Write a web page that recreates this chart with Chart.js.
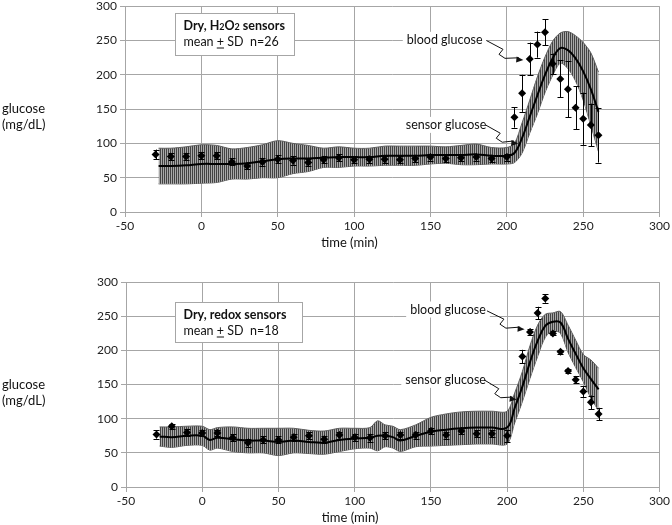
<!DOCTYPE html>
<html>
<head>
<meta charset="utf-8">
<script src="https://cdn.jsdelivr.net/npm/chart.js@4"></script>
<style>
  body { margin: 0; background: #fff; }
  .panel { position: absolute; left: 0; width: 672px; }
</style>
</head>
<body>
<div class="panel" style="top:-4px;height:254px"><canvas id="grafica-h2o2"></canvas></div>
<div class="panel" style="top:272px;height:253px"><canvas id="grafica-redox"></canvas></div>
<script>
// axis ticks
const xTicks = [-50, 0, 50, 100, 150, 200, 250, 300];
const yTicks = [0, 50, 100, 150, 200, 250, 300];

// top panel: H2O2 sensors
const h2o2SensorTime = [-28, -20, -10, 0, 10, 20, 30, 40, 50, 60, 70, 80, 90, 100, 110, 120, 130, 140, 150, 160, 170, 180, 190, 200, 205, 210, 215, 220, 225, 230, 235, 240, 245, 250, 255, 260];
const h2o2SensorMean = [67, 67, 68, 70, 70, 70, 71, 74, 77, 78, 78, 79, 80, 80, 80, 82, 82, 82, 83, 83, 83, 84, 82, 82, 86, 108, 139, 170, 200, 224, 239, 236, 224, 205, 179, 146];
const h2o2SensorSD = [26, 26, 27, 28, 27, 22, 23, 24, 27, 22, 19, 14, 15, 13, 13, 14, 14, 14, 13, 12, 14, 15, 12, 12, 14, 22, 24, 27, 26, 25, 22, 27, 33, 42, 53, 58];
const h2o2BloodTime = [-30, -20, -10, 0, 10, 20, 30, 40, 50, 60, 70, 80, 90, 100, 110, 120, 130, 140, 150, 160, 170, 180, 190, 200, 205, 210, 215, 220, 225, 230, 235, 240, 245, 250, 255, 260];
const h2o2Blood = [84, 81, 81, 82, 82, 73, 67, 73, 77, 75, 72, 76, 79, 76, 77, 77, 76, 78, 80, 78, 79, 80, 78, 80, 138, 173, 223, 244, 262, 216, 194, 179, 152, 136, 127, 112];
const h2o2BloodSD = [7, 5, 5, 5, 5, 5, 5, 6, 6, 6, 5, 5, 5, 5, 5, 5, 5, 5, 5, 5, 5, 5, 5, 5, 15, 27, 24, 19, 19, 15, 27, 41, 31, 38, 31, 40];

// bottom panel: redox sensors
const redoxSensorTime = [-28, -20, -10, 0, 5, 10, 20, 30, 40, 50, 60, 70, 80, 90, 100, 110, 115, 120, 125, 130, 140, 150, 160, 170, 180, 190, 200, 205, 210, 215, 220, 225, 230, 235, 240, 245, 250, 255, 260];
const redoxSensorMean = [74, 73, 75, 75, 69, 72, 70, 68, 68, 66, 68, 66, 65, 69, 71, 72, 75, 75, 73, 68, 75, 81, 84, 86, 87, 87, 87, 116, 147, 183, 214, 236, 242, 241, 217, 195, 174, 158, 143];
const redoxSensorSD = [14, 15, 14, 14, 15, 15, 18, 18, 18, 20, 18, 17, 17, 17, 15, 15, 22, 16, 16, 16, 16, 21, 23, 24, 24, 24, 24, 22, 22, 24, 23, 17, 13, 16, 20, 20, 20, 28, 31];
const redoxBloodTime = [-30, -20, -10, 0, 10, 20, 30, 40, 50, 60, 70, 80, 90, 100, 110, 120, 130, 140, 150, 160, 170, 180, 190, 200, 210, 215, 220, 225, 230, 235, 240, 245, 250, 255, 260];
const redoxBlood = [77, 89, 80, 79, 79, 72, 65, 69, 69, 73, 75, 70, 76, 73, 72, 75, 76, 76, 82, 76, 82, 78, 78, 75, 191, 227, 255, 276, 225, 198, 170, 157, 140, 124, 107];
const redoxBloodSD = [6, 4, 5, 5, 5, 5, 6, 5, 5, 5, 5, 5, 5, 5, 6, 5, 5, 5, 5, 5, 5, 5, 5, 9, 10, 5, 9, 6, 3, 3, 3, 5, 8, 10, 9];

const fuente = 'Lato, "Open Sans", sans-serif';
const gris = '#a6a6a6';

function puntos(tiempos, valores) {
    return tiempos.map((x, i) => ({ x, y: valores[i] }));
}

function bordeBanda(tiempos, media, sd, signo) {
    return tiempos.map((x, i) => ({ x, y: media[i] + signo * sd[i] }));
}

function rayado() {
    const c = document.createElement('canvas');
    c.width = 2; c.height = 2;
    const g = c.getContext('2d');
    g.fillStyle = '#a9a9a9';
    g.fillRect(0, 0, 2, 2);
    g.fillStyle = '#434343';
    g.fillRect(0, 0, 1, 2);
    return g.createPattern(c, 'repeat');
}

// error bars of the blood glucose points
const barrasSD = {
    id: 'barrasSD',
    afterDatasetsDraw(chart, args, opts) {
        const meta = chart.getDatasetMeta(0);
        const y = chart.scales.y;
        const ctx = chart.ctx;
        ctx.save();
        ctx.strokeStyle = '#000';
        ctx.lineWidth = 1;
        meta.data.forEach((p, i) => {
            const v = opts.valores[i], s = opts.sd[i];
            const y1 = y.getPixelForValue(v + s), y2 = y.getPixelForValue(v - s);
            const x = Math.round(p.x) + 0.5;
            ctx.beginPath();
            ctx.moveTo(x, y1); ctx.lineTo(x, y2);
            ctx.moveTo(x - 3, Math.round(y1) + 0.5); ctx.lineTo(x + 3, Math.round(y1) + 0.5);
            ctx.moveTo(x - 3, Math.round(y2) + 0.5); ctx.lineTo(x + 3, Math.round(y2) + 0.5);
            ctx.stroke();
        });
        ctx.restore();
    }
};

function flecha(ctx, x0, y0, x1, y1) {
    const dx = x1 - x0, dy = y1 - y0;
    const L = Math.hypot(dx, dy);
    const ux = dx / L, uy = dy / L;
    const ax = x0 + ux * L * 0.45, ay = y0 + uy * L * 0.45;
    ctx.beginPath();
    ctx.moveTo(x0, y0);
    ctx.lineTo(ax, ay);
    ctx.lineTo(ax - 4, ay + 5);
    ctx.lineTo(ax + 2, ay + 9);
    ctx.lineTo(x1 - ux * 5, y1 - uy * 5);
    ctx.stroke();
    // arrow head
    const hx = x1 - (ax + 2), hy = y1 - (ay + 9);
    const hl = Math.hypot(hx, hy);
    const vx = hx / hl, vy = hy / hl;
    ctx.beginPath();
    ctx.moveTo(x1, y1);
    ctx.lineTo(x1 - vx * 7 - vy * 3, y1 - vy * 7 + vx * 3);
    ctx.lineTo(x1 - vx * 7 + vy * 3, y1 - vy * 7 - vx * 3);
    ctx.closePath();
    ctx.fill();
}

// labels, box and arrows
const rotulos = {
    id: 'rotulos',
    afterDatasetsDraw(chart, args, o) {
        const ctx = chart.ctx;
        const xs = chart.scales.x, ys = chart.scales.y;
        const px = v => xs.getPixelForValue(v);
        const py = v => ys.getPixelForValue(v);
        ctx.save();

        // legend box
        const bx = Math.round(px(o.caja[0])) + 0.5, by = Math.round(py(o.caja[1])) + 0.5;
        const bw = Math.round(px(o.caja[2]) - px(o.caja[0])), bh = Math.round(py(o.caja[3]) - py(o.caja[1]));
        ctx.fillStyle = '#fff';
        ctx.fillRect(bx, by, bw, bh);
        ctx.strokeStyle = gris;
        ctx.lineWidth = 1;
        ctx.strokeRect(bx, by, bw, bh);

        ctx.fillStyle = '#111';
        ctx.textBaseline = 'middle';
        ctx.textAlign = 'left';
        let tx = bx + 8;
        o.titulo.forEach(([txt, sub]) => {
            ctx.font = sub ? `bold 9px ${fuente}` : `bold 12.5px ${fuente}`;
            ctx.fillText(txt, tx, by + 12 + (sub ? 2 : 0));
            tx += ctx.measureText(txt).width;
        });
        ctx.font = `12.5px ${fuente}`;
        tx = bx + 8;
        const yl = by + 28;
        ctx.fillText('mean ', tx, yl);
        tx += ctx.measureText('mean ').width;
        ctx.fillText('+', tx, yl);
        const wp = ctx.measureText('+').width;
        ctx.fillRect(tx, yl + 6, wp, 1);
        tx += wp;
        ctx.fillText(' SD  n=' + o.n, tx, yl);

        // curve labels with arrows
        ctx.font = `12.5px ${fuente}`;
        o.etiquetas.forEach(e => {
            const x = px(e.x), y = py(e.y);
            const w = ctx.measureText(e.texto).width;
            ctx.fillStyle = '#fff';
            ctx.fillRect(x - 4, y - 8, w + 8, 16);
            ctx.fillStyle = '#111';
            ctx.fillText(e.texto, x, y);
            ctx.strokeStyle = '#111';
            ctx.lineWidth = 1;
            flecha(ctx, px(e.desde[0]), py(e.desde[1]), px(e.hasta[0]), py(e.hasta[1]));
        });

        // axis titles
        ctx.font = `13px ${fuente}`;
        ctx.fillStyle = '#111';
        ctx.textAlign = 'left';
        const ly = py(o.ejeY);
        ctx.fillText('glucose', 2, ly);
        ctx.fillText('(mg/dL)', 2, ly + 16);
        ctx.textAlign = 'center';
        ctx.fillText('time (min)', px(o.ejeX), chart.chartArea.bottom + 31);
        ctx.restore();
    }
};

function crearGrafica(id, d) {
    const patron = rayado();
    return new Chart(document.getElementById(id), {
        type: 'line',
        data: {
            datasets: [
                {
                    label: 'blood glucose',
                    data: puntos(d.tSangre, d.sangre),
                    showLine: false,
                    pointStyle: 'rectRot',
                    pointRadius: 4,
                    pointBackgroundColor: '#000',
                    pointBorderColor: '#000',
                    pointBorderWidth: 0
                },
                {
                    label: 'sensor glucose',
                    data: puntos(d.tSensor, d.media),
                    borderColor: '#000',
                    borderWidth: 2,
                    pointRadius: 0,
                    tension: 0.4,
                    fill: false
                },
                {
                    label: 'sensor + SD',
                    data: bordeBanda(d.tSensor, d.media, d.sd, 1),
                    borderColor: '#5e5e5e',
                    borderWidth: 1,
                    pointRadius: 0,
                    tension: 0.3,
                    fill: '+1',
                    backgroundColor: patron
                },
                {
                    label: 'sensor - SD',
                    data: bordeBanda(d.tSensor, d.media, d.sd, -1),
                    borderColor: '#5e5e5e',
                    borderWidth: 1,
                    pointRadius: 0,
                    tension: 0.3,
                    fill: false
                }
            ]
        },
        options: {
            responsive: true,
            maintainAspectRatio: false,
            animation: false,
            events: [],
            layout: { padding: { left: 0, right: 10, top: 0, bottom: 0 } },
            scales: {
                x: {
                    type: 'linear',
                    min: xTicks[0],
                    max: xTicks[xTicks.length - 1],
                    afterBuildTicks: s => { s.ticks = xTicks.map(v => ({ value: v })); },
                    afterFit: s => { s.height = 38; },
                    ticks: { font: { family: fuente, size: 12 }, color: '#222', padding: 2, maxRotation: 0 },
                    grid: { color: gris, tickLength: 5 },
                    border: { color: gris }
                },
                y: {
                    min: yTicks[0],
                    max: yTicks[yTicks.length - 1],
                    afterBuildTicks: s => { s.ticks = yTicks.map(v => ({ value: v })); },
                    afterFit: s => { s.width = d.anchoY; },
                    ticks: { font: { family: fuente, size: 12 }, color: '#222', padding: 3 },
                    grid: { color: gris, tickLength: 5 },
                    border: { color: gris }
                }
            },
            plugins: {
                legend: { display: false },
                tooltip: { enabled: false },
                barrasSD: { valores: d.sangre, sd: d.sangreSD },
                rotulos: d.rotulos
            }
        },
        plugins: [barrasSD, rotulos]
    });
}

crearGrafica('grafica-h2o2', {
    tSensor: h2o2SensorTime, media: h2o2SensorMean, sd: h2o2SensorSD,
    tSangre: h2o2BloodTime, sangre: h2o2Blood, sangreSD: h2o2BloodSD,
    anchoY: 125,
    rotulos: {
        caja: [-17.4, 290, 60.8, 228.6],
        titulo: [['Dry, H', false], ['2', true], ['O', false], ['2', true], [' sensors', false]],
        n: 26,
        ejeY: 150,
        ejeX: 97,
        etiquetas: [
            { texto: 'blood glucose', x: 134.5, y: 251, desde: [186.6, 250], hasta: [210.8, 221.4] },
            { texto: 'sensor glucose', x: 133.8, y: 127, desde: [186, 127], hasta: [207.5, 100] }
        ]
    }
});

crearGrafica('grafica-redox', {
    tSensor: redoxSensorTime, media: redoxSensorMean, sd: redoxSensorSD,
    tSangre: redoxBloodTime, sangre: redoxBlood, sangreSD: redoxBloodSD,
    anchoY: 126,
    rotulos: {
        caja: [-18, 271, 65.4, 212],
        titulo: [['Dry, redox sensors', false]],
        n: 18,
        ejeY: 150,
        ejeX: 97,
        etiquetas: [
            { texto: 'blood glucose', x: 136.4, y: 260, desde: [186.8, 258], hasta: [211.5, 231] },
            { texto: 'sensor glucose', x: 133.2, y: 157, desde: [184.9, 157], hasta: [206.3, 128] }
        ]
    }
});
</script>
</body>
</html>
